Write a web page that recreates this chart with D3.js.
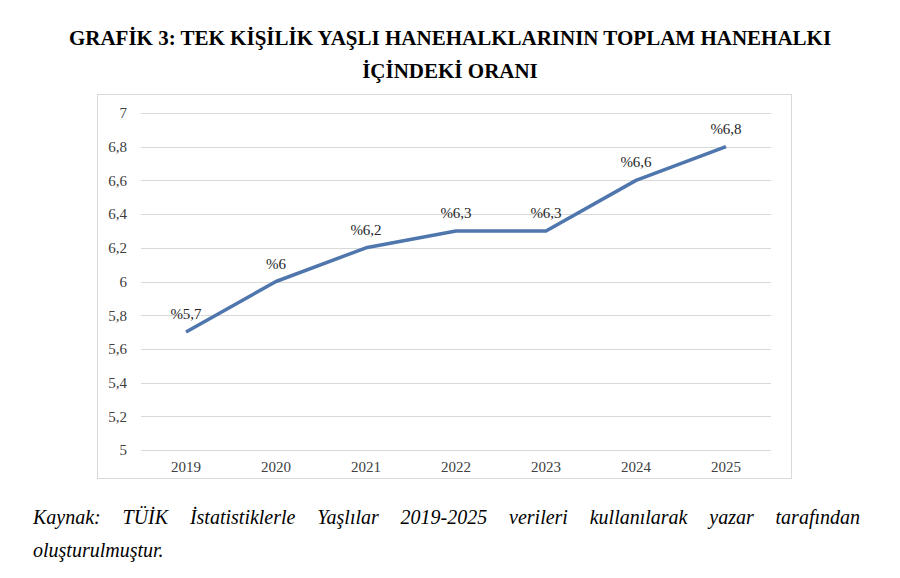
<!DOCTYPE html>
<html lang="tr">
<head>
<meta charset="UTF-8">
<title>Grafik 3</title>
<script src="https://d3js.org/d3.v7.min.js"></script>
<style>
  body { margin: 0; background: #fff; }
  svg text { font-family: 'Liberation Serif', 'Times New Roman', Times, serif !important; }
</style>
</head>
<body>
<script>
const years = ["2019", "2020", "2021", "2022", "2023", "2024", "2025"];
const values = [5.7, 6.0, 6.2, 6.3, 6.3, 6.6, 6.8];
const labels = ["%5,7", "%6", "%6,2", "%6,3", "%6,3", "%6,6", "%6,8"];
const yTicks = [5, 5.2, 5.4, 5.6, 5.8, 6, 6.2, 6.4, 6.6, 6.8, 7];
const titleLines = ["GRAFİK 3: TEK KİŞİLİK YAŞLI HANEHALKLARININ TOPLAM HANEHALKI", "İÇİNDEKİ ORANI"];
const sourceText = "Kaynak: TÜİK İstatistiklerle Yaşlılar 2019-2025 verileri kullanılarak yazar tarafından";
const sourceText2 = "oluşturulmuştur.";

const width = 900, height = 578;
const serif = "'Liberation Serif', 'Times New Roman', Times, serif";

const svg = d3.select("body").append("svg")
    .attr("width", width)
    .attr("height", height)
    .style("font-family", serif);

// title
svg.append("g").selectAll("text")
    .data(titleLines)
    .enter().append("text")
    .attr("x", 450)
    .attr("y", (d, i) => 45 + i * 33)
    .attr("text-anchor", "middle")
    .attr("font-size", 21)
    .attr("font-weight", "bold")
    .attr("fill", "#000")
    .style("font-family", serif)
    .text(d => d);

// chart frame
svg.append("rect")
    .attr("x", 97.5).attr("y", 94.5)
    .attr("width", 694).attr("height", 384)
    .attr("fill", "none")
    .attr("stroke", "#d9d9d9");

const x = d3.scaleBand().domain(years).range([141, 771]);
const y = d3.scaleLinear().domain([5, 7]).range([450, 113]);

// gridlines
svg.append("g").selectAll("line")
    .data(yTicks)
    .enter().append("line")
    .attr("x1", 141).attr("x2", 771)
    .attr("y1", d => Math.round(y(d)) + 0.5)
    .attr("y2", d => Math.round(y(d)) + 0.5)
    .attr("stroke", "#d9d9d9");

// y axis labels
const fmt = d => d3.format(".1~f")(d).replace(".", ",");
const yAxis = svg.append("g")
    .attr("transform", "translate(141,0)")
    .call(d3.axisLeft(y).tickValues(yTicks).tickFormat(fmt).tickSize(0).tickPadding(14));
yAxis.attr("font-family", null);
yAxis.select(".domain").remove();
yAxis.selectAll("text")
    .attr("font-size", 15)
    .style("font-family", serif)
    .attr("fill", "#404040");

// x axis labels
const xAxis = svg.append("g")
    .attr("transform", "translate(0,450)")
    .call(d3.axisBottom(x).tickSize(0).tickPadding(11));
xAxis.attr("font-family", null);
xAxis.select(".domain").remove();
xAxis.selectAll("text")
    .attr("font-size", 15)
    .style("font-family", serif)
    .attr("fill", "#404040");

// line
const pts = years.map((yr, i) => ({ year: yr, value: values[i], label: labels[i] }));
const line = d3.line()
    .x(d => x(d.year) + x.bandwidth() / 2)
    .y(d => y(d.value));

svg.append("path")
    .datum(pts)
    .attr("d", line)
    .attr("fill", "none")
    .attr("stroke", "#4f76ad")
    .attr("stroke-width", 3.5)
    .attr("stroke-linejoin", "round");

// data labels
svg.append("g").selectAll("text")
    .data(pts)
    .enter().append("text")
    .attr("x", d => x(d.year) + x.bandwidth() / 2)
    .attr("y", d => y(d.value) - 13)
    .attr("text-anchor", "middle")
    .attr("font-size", 15)
    .attr("fill", "#262626")
    .style("font-family", serif)
    .text(d => d.label);

// source note, justified first line
const note = svg.append("g")
    .attr("font-size", 20)
    .attr("font-style", "italic")
    .attr("fill", "#000");
const words = sourceText.split(" ");
const left = 33, right = 860;
const wordNodes = words.map(w => note.append("text").attr("y", 524).style("font-family", serif).text(w));
const widths = wordNodes.map(n => n.node().getComputedTextLength());
const total = d3.sum(widths);
const gap = (right - left - total) / (words.length - 1);
let cx = left;
wordNodes.forEach((n, i) => {
    n.attr("x", cx);
    cx += widths[i] + gap;
});
note.append("text")
    .attr("x", left)
    .attr("y", 557)
    .style("font-family", serif)
    .text(sourceText2);
</script>
</body>
</html>
